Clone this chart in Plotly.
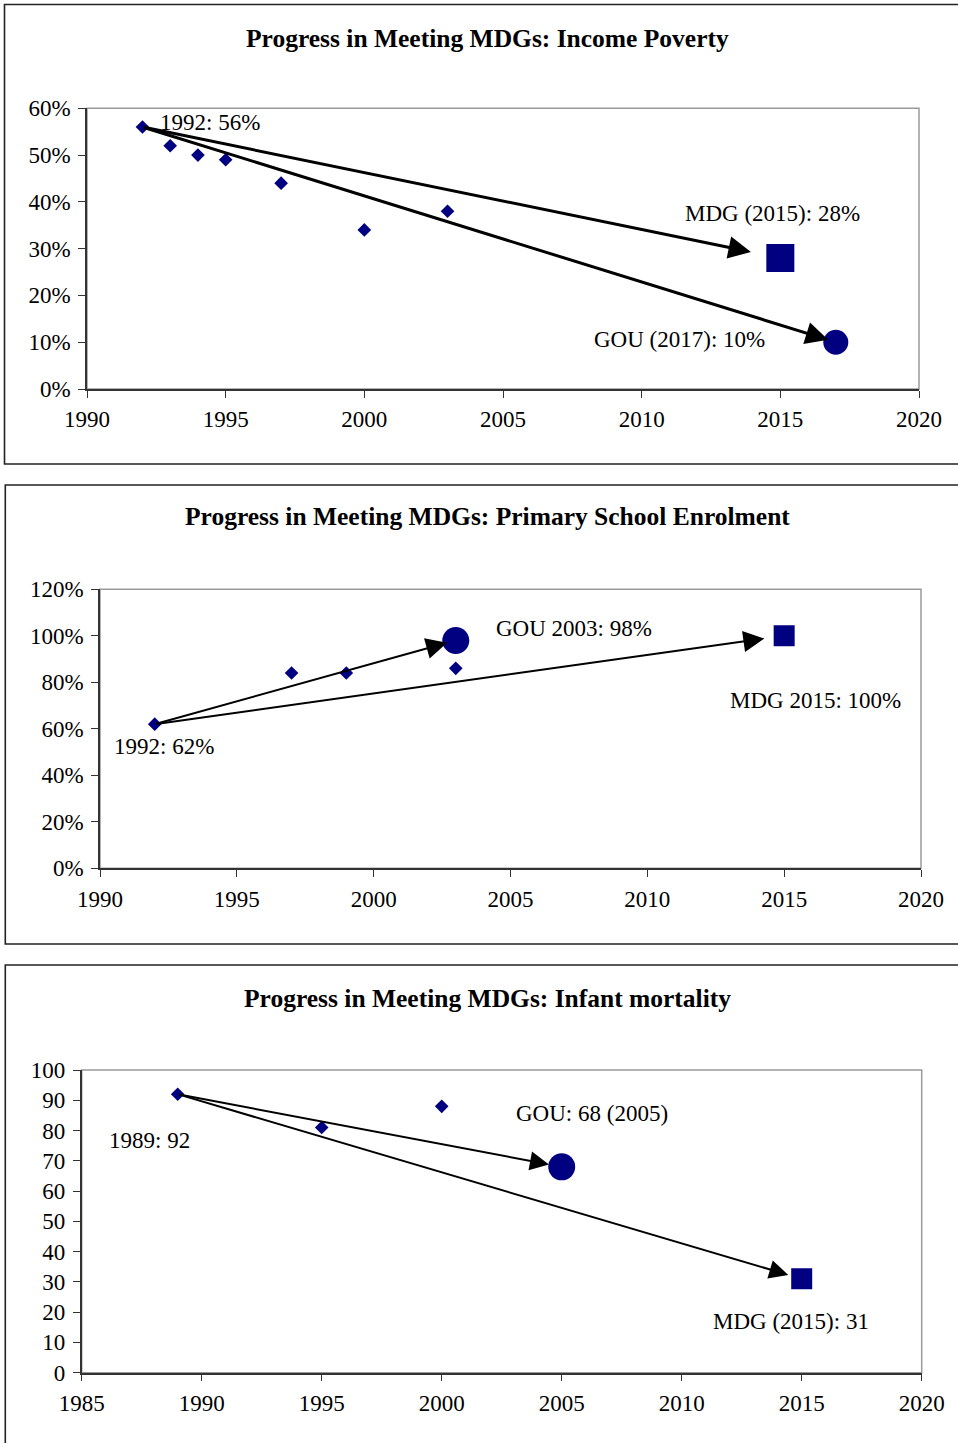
import plotly.graph_objects as go

W, H = 958, 1443
FONT = "Liberation Serif, Times New Roman, serif"
NAVY = "#000080"

# ---------- data ----------
# Panel 1: Income poverty
pov_years = [1992, 1993, 1994, 1995, 1997, 2000, 2003]
pov_vals = [0.56, 0.52, 0.50, 0.49, 0.44, 0.34, 0.38]
pov_mdg_year, pov_mdg_val = 2015, 0.28
pov_gou_year, pov_gou_val = 2017, 0.10
pov_labels = ["1992: 56%", "MDG (2015): 28%", "GOU (2017): 10%"]

# Panel 2: Primary school enrolment
enr_years = [1992, 1997, 1999, 2003]
enr_vals = [0.62, 0.84, 0.84, 0.86]
enr_gou_year, enr_gou_val = 2003, 0.98
enr_mdg_year, enr_mdg_val = 2015, 1.00
enr_labels = ["1992: 62%", "GOU 2003: 98%", "MDG 2015: 100%"]

# Panel 3: Infant mortality
inf_years = [1989, 1995, 2000]
inf_vals = [92, 81, 88]
inf_gou_year, inf_gou_val = 2005, 68
inf_mdg_year, inf_mdg_val = 2015, 31
inf_labels = ["1989: 92", "GOU: 68 (2005)", "MDG (2015): 31"]

titles = [
    "Progress in Meeting MDGs: Income Poverty",
    "Progress in Meeting MDGs: Primary School Enrolment",
    "Progress in Meeting MDGs: Infant mortality",
]

# ---------- layout geometry (pixels) ----------
plots = [  # left, right, top, bottom
    (87, 919, 108.3, 389),
    (100, 921, 589.3, 868.3),
    (81.7, 921.7, 1070, 1372.7),
]
boxes = [(4.5, 4.5, 464), (5.3, 485, 944), (5.3, 965, 1460)]  # left, top, bottom
title_y = [38, 517, 998]

def px(x):
    return x / W

def py(y):
    return 1 - y / H

fig = go.Figure()

def add_markers(xa, ya, xs, ys, symbol, size):
    fig.add_trace(go.Scatter(
        x=xs, y=ys, mode="markers", xaxis=xa, yaxis=ya,
        marker=dict(symbol=symbol, size=size, color=NAVY,
                    line=dict(width=0)),
        hoverinfo="skip"))

# panel 1
add_markers("x", "y", pov_years, pov_vals, "diamond", 10.5)
add_markers("x", "y", [pov_mdg_year], [pov_mdg_val], "square", 28)
add_markers("x", "y", [pov_gou_year], [pov_gou_val], "circle", 25)
# panel 2
add_markers("x2", "y2", enr_years, enr_vals, "diamond", 10.5)
add_markers("x2", "y2", [enr_gou_year], [enr_gou_val], "circle", 27)
add_markers("x2", "y2", [enr_mdg_year], [enr_mdg_val], "square", 21)
# panel 3
add_markers("x3", "y3", inf_years, inf_vals, "diamond", 10.5)
add_markers("x3", "y3", [inf_gou_year], [inf_gou_val], "circle", 27)
add_markers("x3", "y3", [inf_mdg_year], [inf_mdg_val], "square", 21)

axis_common = dict(
    showgrid=False, zeroline=False, showline=True, linecolor="#333333",
    linewidth=1.5, ticks="outside", ticklen=7, tickwidth=1.2,
    tickcolor="#333333", tickfont=dict(family=FONT, size=23, color="black"),
    fixedrange=True, automargin=False,
)

layout_axes = {}
xranges = [[1990, 2020], [1990, 2020], [1985, 2020]]
yranges = [[0, 0.6], [0, 1.2], [0, 100]]
ydticks = [0.1, 0.2, 10]
yformats = [".0%", ".0%", ""]
for i, (l, r, t, b) in enumerate(plots):
    sfx = "" if i == 0 else str(i + 1)
    layout_axes["xaxis" + sfx] = dict(
        axis_common, domain=[px(l), px(r)], range=xranges[i], dtick=5,
        tick0=1985, anchor="y" + sfx, ticklabelstandoff=2)
    layout_axes["yaxis" + sfx] = dict(
        axis_common, domain=[py(b), py(t)], range=yranges[i],
        dtick=ydticks[i], tick0=0, tickformat=yformats[i],
        anchor="x" + sfx, ticklabelstandoff=3)

shapes = []
for i, (l, r, t, b) in enumerate(plots):
    sfx = "" if i == 0 else str(i + 1)
    shapes.append(dict(type="rect", xref="x" + sfx + " domain",
                       yref="y" + sfx + " domain", x0=0, x1=1, y0=0, y1=1,
                       line=dict(color="#9a9a9a", width=1.5), layer="below"))
for (l, t, b) in boxes:
    shapes.append(dict(type="rect", xref="paper", yref="paper",
                       x0=px(l), x1=1.05, y0=py(b), y1=py(t),
                       line=dict(color="#222222", width=1.6), layer="below"))

annotations = []
for i, tt in enumerate(titles):
    annotations.append(dict(text="<b>%s</b>" % tt, xref="paper", yref="paper",
                            x=px(487.5), y=py(title_y[i]), xanchor="center",
                            yanchor="middle", showarrow=False,
                            font=dict(family=FONT, size=25.5, color="black")))

def label(xa, ya, x, y, text):
    annotations.append(dict(text=text, xref=xa, yref=ya, x=x, y=y,
                            xanchor="left", yanchor="middle", showarrow=False,
                            font=dict(family=FONT, size=23, color="black")))

def arrow(xa, ya, x0, y0, x1, y1, width, size, standoff):
    annotations.append(dict(text="", xref=xa, yref=ya, x=x1, y=y1,
                            axref=xa, ayref=ya, ax=x0, ay=y0, showarrow=True,
                            arrowhead=2, arrowwidth=width, arrowsize=size,
                            arrowcolor="black", standoff=standoff))

# panel 1 labels & arrows
label("x", "y", 1992.55, 0.569, pov_labels[0])
label("x", "y", 2011.5, 0.376, pov_labels[1])
label("x", "y", 2008.2, 0.105, pov_labels[2])
arrow("x", "y", pov_years[0], pov_vals[0], pov_mdg_year, pov_mdg_val, 3, 1.5, 30)
arrow("x", "y", pov_years[0], pov_vals[0], pov_gou_year, pov_gou_val, 3, 1.5, 8)

# panel 2 labels & arrows
label("x2", "y2", 1990.45, 0.523, enr_labels[0])
label("x2", "y2", 2004.4, 1.032, enr_labels[1])
label("x2", "y2", 2012.95, 0.721, enr_labels[2])
arrow("x2", "y2", enr_years[0], enr_vals[0], enr_gou_year, enr_gou_val, 2, 2.1, 9)
arrow("x2", "y2", enr_years[0], enr_vals[0], enr_mdg_year, enr_mdg_val, 2, 2.1, 20)

# panel 3 labels & arrows
label("x3", "y3", 1986.05, 76.6, inf_labels[0])
label("x3", "y3", 2003.0, 85.5, inf_labels[1])
label("x3", "y3", 2011.2, 16.85, inf_labels[2])
arrow("x3", "y3", inf_years[0], inf_vals[0], inf_gou_year, inf_gou_val, 2, 1.9, 13)
arrow("x3", "y3", inf_years[0], inf_vals[0], inf_mdg_year, inf_mdg_val, 2, 1.9, 14)

fig.update_layout(
    width=W, height=H,
    margin=dict(l=0, r=0, t=0, b=0, pad=0, autoexpand=False),
    paper_bgcolor="white", plot_bgcolor="white", showlegend=False,
    shapes=shapes, annotations=annotations, **layout_axes,
)

fig.write_html(
    "out.html",
    config={"displayModeBar": False},
    post_script="document.body.style.margin='0';document.body.style.overflow='hidden';",
)
